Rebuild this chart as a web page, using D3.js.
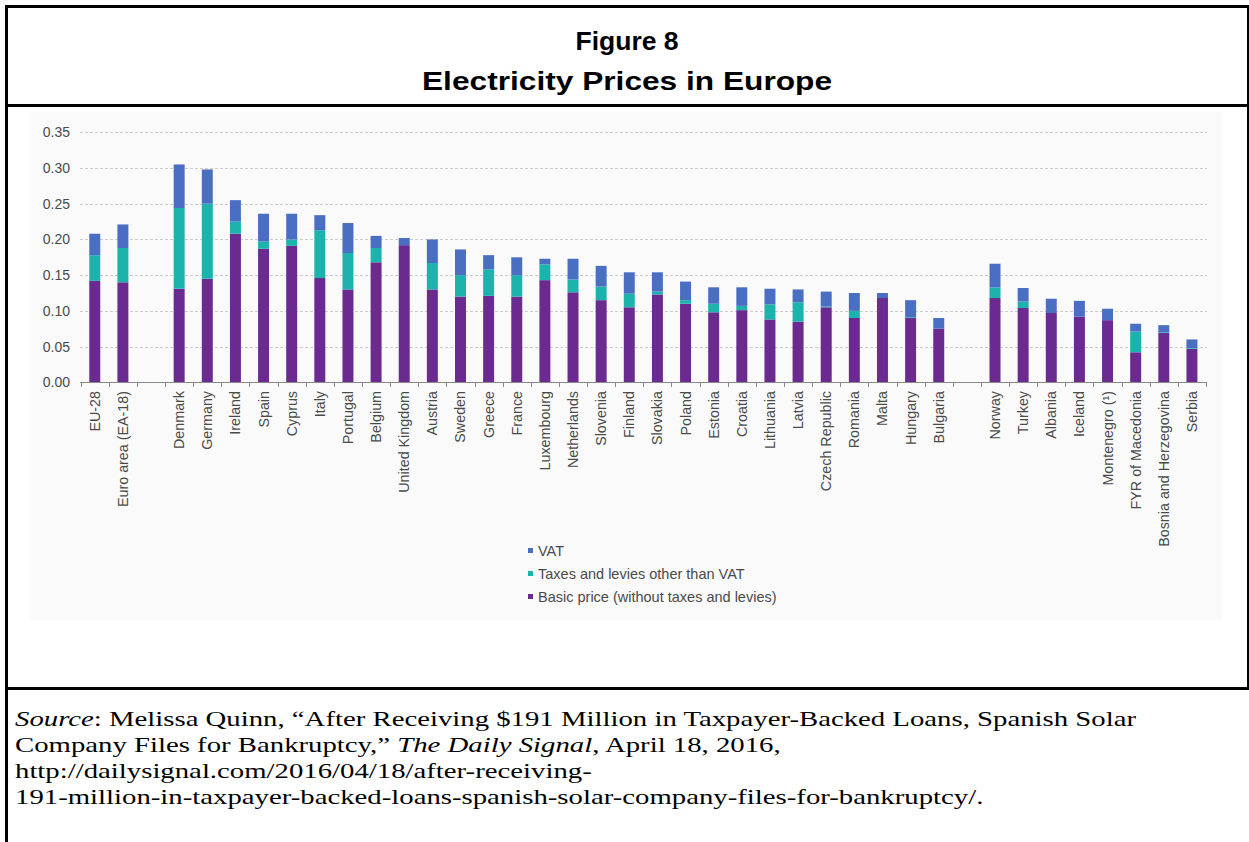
<!DOCTYPE html>
<html>
<head>
<meta charset="utf-8">
<script src="https://cdn.jsdelivr.net/npm/d3@7"></script>
<style>
  html, body { margin: 0; padding: 0; background: #ffffff; }
  svg { display: block; }
</style>
</head>
<body>
<svg id="chart" width="1249" height="842"></svg>
<script>
// ---------- DATA ----------
const aggregates = ["EU-28", "Euro area (EA-18)"];
const euCountries = ["Denmark", "Germany", "Ireland", "Spain", "Cyprus", "Italy", "Portugal", "Belgium",
  "United Kingdom", "Austria", "Sweden", "Greece", "France", "Luxembourg", "Netherlands", "Slovenia",
  "Finland", "Slovakia", "Poland", "Estonia", "Croatia", "Lithuania", "Latvia", "Czech Republic",
  "Romania", "Malta", "Hungary", "Bulgaria"];
const otherCountries = ["Norway", "Turkey", "Albania", "Iceland", "Montenegro (\u00B9)", "FYR of Macedonia",
  "Bosnia and Herzegovina", "Serbia"];

// values in EUR per kWh, in the order aggregates + euCountries + otherCountries
const basicPrice = [0.142, 0.140,
  0.131, 0.145, 0.208, 0.187, 0.191, 0.146, 0.130, 0.168, 0.192, 0.130, 0.120, 0.121, 0.120, 0.143,
  0.126, 0.115, 0.105, 0.123, 0.110, 0.098, 0.101, 0.088, 0.085, 0.105, 0.090, 0.118, 0.090, 0.075,
  0.118, 0.104, 0.097, 0.092, 0.087, 0.042, 0.069, 0.047];
const otherTaxes = [0.036, 0.048,
  0.113, 0.105, 0.017, 0.010, 0.009, 0.067, 0.051, 0.020, 0.000, 0.037, 0.030, 0.037, 0.030, 0.022,
  0.018, 0.019, 0.019, 0.004, 0.005, 0.012, 0.006, 0.021, 0.027, 0.001, 0.010, 0.000, 0.001, 0.000,
  0.015, 0.009, 0.000, 0.000, 0.000, 0.029, 0.001, 0.001];
const vatValues = [0.030, 0.033,
  0.061, 0.048, 0.030, 0.039, 0.036, 0.021, 0.042, 0.017, 0.010, 0.033, 0.036, 0.020, 0.025, 0.008,
  0.029, 0.029, 0.030, 0.027, 0.026, 0.023, 0.026, 0.022, 0.018, 0.021, 0.025, 0.007, 0.024, 0.015,
  0.033, 0.019, 0.020, 0.022, 0.016, 0.011, 0.010, 0.012];

const yTicks = [0, 0.05, 0.10, 0.15, 0.20, 0.25, 0.30, 0.35];
const seriesNames = ["VAT", "Taxes and levies other than VAT", "Basic price (without taxes and levies)"];
const seriesColors = ["#4a6fc2", "#1db3ad", "#6a2a8f"];

const titleLines = ["Figure 8", "Electricity Prices in Europe"];

// ---------- BUILD ----------
const countries = aggregates.concat(euCountries, otherCountries);
const rows = countries.map((c, i) => ({ cat: c, basic: basicPrice[i], taxes: otherTaxes[i], vat: vatValues[i] }));
const slots = aggregates.concat(["__gap1"], euCountries, ["__gap2"], otherCountries);

const svg = d3.select("#chart");
const sans = "Liberation Sans, Arial, sans-serif";

// faint chart-image background
svg.append("rect").attr("x", 30).attr("y", 112).attr("width", 1192).attr("height", 508)
  .attr("fill", "#fafafa");

// frame
const frame = svg.append("g").attr("stroke", "#000").attr("fill", "none");
frame.append("line").attr("x1", 5).attr("x2", 1249).attr("y1", 6.5).attr("y2", 6.5).attr("stroke-width", 3);
frame.append("line").attr("x1", 6.5).attr("x2", 6.5).attr("y1", 5).attr("y2", 842).attr("stroke-width", 3);
frame.append("line").attr("x1", 1248.5).attr("x2", 1248.5).attr("y1", 5).attr("y2", 690).attr("stroke-width", 3);
frame.append("line").attr("x1", 5).attr("x2", 1249).attr("y1", 105.5).attr("y2", 105.5).attr("stroke-width", 3);
frame.append("line").attr("x1", 5).attr("x2", 1249).attr("y1", 688.5).attr("y2", 688.5).attr("stroke-width", 3);

// title
const titleWidths = [103, 410];
svg.append("g").selectAll("text").data(titleLines).join("text")
  .attr("x", 627).attr("y", (d, i) => 50 + i * 40)
  .attr("text-anchor", "middle")
  .attr("font-family", sans)
  .attr("font-weight", "bold").attr("font-size", 25)
  .attr("textLength", (d, i) => titleWidths[i])
  .attr("lengthAdjust", "spacingAndGlyphs")
  .attr("fill", "#000")
  .text(d => d);

// scales
const x = d3.scaleBand().domain(slots).range([80.7, 1206]).paddingInner(0.61).paddingOuter(0.305);
const y = d3.scaleLinear().domain([0, 0.35]).range([382.3, 132.3]);

// gridlines
svg.append("g").selectAll("line").data(yTicks.filter(t => t > 0)).join("line")
  .attr("x1", 80).attr("x2", 1207)
  .attr("y1", d => Math.round(y(d)) + 0.5).attr("y2", d => Math.round(y(d)) + 0.5)
  .attr("stroke", "#cdcdcd").attr("stroke-width", 1).attr("stroke-dasharray", "3,2");

// y labels
const yAxis = d3.axisLeft(y).tickValues(yTicks).tickFormat(d3.format(".2f")).tickSize(0).tickPadding(10);
const yg = svg.append("g").attr("transform", "translate(80,0)").call(yAxis);
yg.select(".domain").remove();
yg.selectAll("text").attr("font-family", sans)
  .attr("font-size", 14).attr("fill", "#4a4a4a");

// stacked bars
const stack = d3.stack().keys(["basic", "taxes", "vat"]);
const stacked = stack(rows);
const colorFor = { basic: seriesColors[2], taxes: seriesColors[1], vat: seriesColors[0] };
svg.append("g").selectAll("g").data(stacked).join("g")
  .attr("fill", d => colorFor[d.key])
  .selectAll("rect").data(d => d).join("rect")
  .attr("x", d => x(d.data.cat))
  .attr("width", x.bandwidth())
  .attr("y", d => y(d[1]))
  .attr("height", d => Math.max(0, y(d[0]) - y(d[1])));

// x axis line and ticks at slot boundaries
const step = x.step();
const boundaries = slots.map(s => x(s) - step * x.paddingInner() / 2).concat([x.range()[1]]);
const xg = svg.append("g");
xg.append("line").attr("x1", 80).attr("x2", 1207).attr("y1", 382.5).attr("y2", 382.5)
  .attr("stroke", "#8a8a8a").attr("stroke-width", 1);
xg.selectAll("line.tick").data(boundaries).join("line").attr("class", "tick")
  .attr("x1", d => Math.round(d) + 0.5).attr("x2", d => Math.round(d) + 0.5)
  .attr("y1", 382).attr("y2", 387)
  .attr("stroke", "#8a8a8a").attr("stroke-width", 1);

// x labels
xg.selectAll("text").data(countries).join("text")
  .attr("transform", d => `translate(${x(d) + x.bandwidth() / 2 + 5},391) rotate(-90)`)
  .attr("text-anchor", "end")
  .attr("font-family", sans)
  .attr("font-size", 14.3).attr("fill", "#4a4a4a")
  .text(d => d);

// legend
const legend = svg.append("g").attr("transform", "translate(528,551)");
const lg = legend.selectAll("g").data(seriesNames).join("g")
  .attr("transform", (d, i) => `translate(0,${i * 23})`);
lg.append("rect").attr("x", 0).attr("y", -3).attr("width", 5).attr("height", 5)
  .attr("fill", (d, i) => seriesColors[i]);
lg.append("text").attr("x", 10).attr("y", 5)
  .attr("font-family", sans)
  .attr("font-size", 14.5).attr("fill", "#4a4a4a")
  .text(d => d);

// source note (horizontally stretched like the reference)
const src = svg.append("g").attr("transform", "translate(15,0) scale(1.37,1)")
  .attr("font-family", "Liberation Serif, Times New Roman, serif")
  .attr("font-size", 21).attr("fill", "#000");
const l1 = src.append("text").attr("x", 0).attr("y", 726);
l1.append("tspan").attr("font-style", "italic").text("Source");
l1.append("tspan").text(": Melissa Quinn, \u201CAfter Receiving $191 Million in Taxpayer-Backed Loans, Spanish Solar");
const l2 = src.append("text").attr("x", 0).attr("y", 752);
l2.append("tspan").text("Company Files for Bankruptcy,\u201D ");
l2.append("tspan").attr("font-style", "italic").text("The Daily Signal");
l2.append("tspan").text(", April 18, 2016,");
src.append("text").attr("x", 0).attr("y", 778).text("http://dailysignal.com/2016/04/18/after-receiving-");
src.append("text").attr("x", 0).attr("y", 804).text("191-million-in-taxpayer-backed-loans-spanish-solar-company-files-for-bankruptcy/.");
</script>
</body>
</html>
